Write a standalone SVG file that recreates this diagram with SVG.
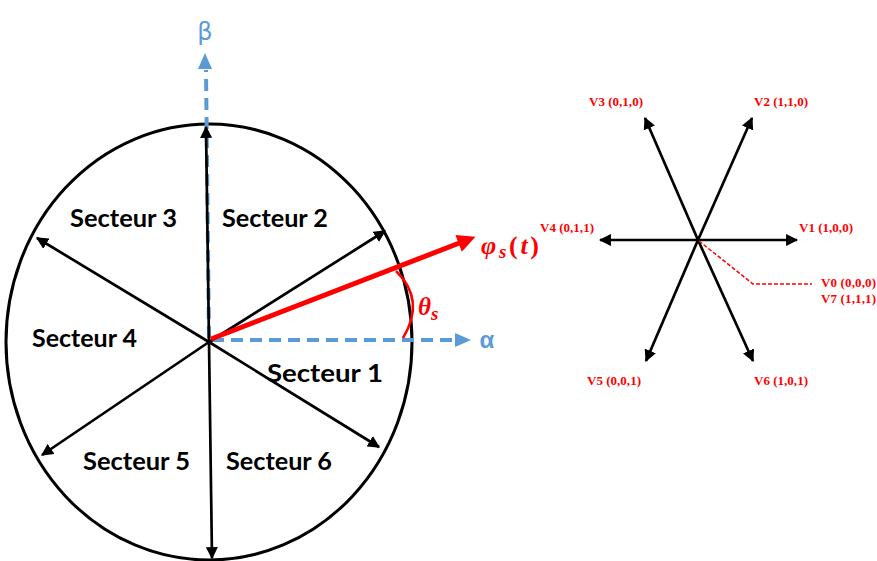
<svg xmlns="http://www.w3.org/2000/svg" width="877" height="561" viewBox="0 0 877 561">
<style>
.sp{stroke:#000;stroke-width:2.7;fill:none}
.sec{font-family:Lato,"Liberation Sans",sans-serif;font-weight:bold;font-size:24px;fill:#000}
.bl{stroke:#5B9BD5;stroke-width:4;stroke-dasharray:12 7;fill:none}
.vl{font-family:"Liberation Serif",serif;font-weight:bold;font-size:13px;fill:#FF0000}
.rm{font-family:"Liberation Serif",serif;font-weight:bold;fill:#FF0000}
</style>
<defs>
<marker id="ak" viewBox="0 0 10 10" refX="9" refY="5" markerWidth="4.5" markerHeight="4.5" orient="auto" markerUnits="strokeWidth"><path d="M0,0 L10,5 L0,10 z" fill="#000"/></marker>
<marker id="ar" viewBox="0 0 10 10" refX="2" refY="5" markerWidth="4" markerHeight="3.6" orient="auto" markerUnits="strokeWidth"><path d="M0,0 L10,5 L0,10 z" fill="#FF0000"/></marker>
</defs>
<rect width="877" height="561" fill="#fff"/>
<g id="circle"><ellipse cx="209" cy="342" rx="203" ry="218" fill="none" stroke="#000" stroke-width="3"/></g>
<g id="axes">
<line class="bl" x1="209" y1="338" x2="206" y2="70"/>
<path d="M205,53 L212,69 L198,69 z" fill="#5B9BD5"/>
<line class="bl" x1="212" y1="340" x2="456" y2="340"/>
<path d="M471,340 L455,333 L455,347 z" fill="#5B9BD5"/>
<text x="205" y="40" font-family="'DejaVu Sans',sans-serif" font-size="24" fill="#5B9BD5" text-anchor="middle">β</text>
<text x="487" y="348" font-family="'Liberation Sans',sans-serif" font-weight="bold" font-size="24" fill="#5B9BD5" text-anchor="middle">α</text>
</g>
<g id="connectors">
<line class="sp" x1="209" y1="342" x2="206" y2="127" marker-end="url(#ak)"/>
<line class="sp" x1="209" y1="342" x2="212" y2="558" marker-end="url(#ak)"/>
<line class="sp" x1="209" y1="342" x2="385" y2="231" marker-end="url(#ak)"/>
<line class="sp" x1="209" y1="342" x2="37" y2="238" marker-end="url(#ak)"/>
<line class="sp" x1="209" y1="342" x2="42" y2="455" marker-end="url(#ak)"/>
<line class="sp" x1="209" y1="342" x2="379" y2="447" marker-end="url(#ak)"/>
</g>
<g id="flux">
<line x1="211" y1="339" x2="462" y2="242" stroke="#FF0000" stroke-width="5" marker-end="url(#ar)"/>
<path d="M396,271 Q426,300 403,338" fill="none" stroke="#FF0000" stroke-width="2.5"/>
<text class="rm" x="481" y="254" font-size="26" textLength="58" lengthAdjust="spacing"><tspan font-style="italic">φ</tspan><tspan font-style="italic" font-size="19" dy="4">s</tspan><tspan dy="-4">(</tspan><tspan font-style="italic">t</tspan>)</text>
<text class="rm" x="418" y="315" font-size="25"><tspan font-style="italic">θ</tspan><tspan font-style="italic" font-size="19" dy="5">s</tspan></text>
</g>
<g id="sectors">
<text class="sec" x="70" y="227" textLength="107" lengthAdjust="spacingAndGlyphs">Secteur 3</text>
<text class="sec" x="222" y="227" textLength="106" lengthAdjust="spacingAndGlyphs">Secteur 2</text>
<text class="sec" x="32" y="347" textLength="105" lengthAdjust="spacingAndGlyphs">Secteur 4</text>
<text class="sec" x="267" y="382" font-size="26" textLength="116" lengthAdjust="spacingAndGlyphs">Secteur 1</text>
<text class="sec" x="83" y="470" textLength="107" lengthAdjust="spacingAndGlyphs">Secteur 5</text>
<text class="sec" x="226" y="470" textLength="106" lengthAdjust="spacingAndGlyphs">Secteur 6</text>
</g>
<g id="hexagon">
<line class="sp" x1="698" y1="240" x2="797" y2="240" marker-end="url(#ak)"/>
<line class="sp" x1="698" y1="240" x2="600" y2="240" marker-end="url(#ak)"/>
<line class="sp" x1="698" y1="240" x2="752" y2="118" marker-end="url(#ak)"/>
<line class="sp" x1="698" y1="240" x2="645" y2="118" marker-end="url(#ak)"/>
<line class="sp" x1="698" y1="240" x2="646" y2="361" marker-end="url(#ak)"/>
<line class="sp" x1="698" y1="240" x2="753" y2="361" marker-end="url(#ak)"/>
<polyline points="699,241 753,284 812,284" fill="none" stroke="#FF0000" stroke-width="1.5" stroke-dasharray="4 2"/>
</g>
<g id="labels">
<text class="vl" x="589" y="106" textLength="54">V3 (0,1,0)</text>
<text class="vl" x="754" y="106" textLength="54">V2 (1,1,0)</text>
<text class="vl" x="540" y="232" textLength="54">V4 (0,1,1)</text>
<text class="vl" x="799" y="232" textLength="54">V1 (1,0,0)</text>
<text class="vl" x="821" y="287" textLength="55">V0 (0,0,0)</text>
<text class="vl" x="821" y="303" textLength="55">V7 (1,1,1)</text>
<text class="vl" x="587" y="385" textLength="54">V5 (0,0,1)</text>
<text class="vl" x="754" y="385" textLength="54">V6 (1,0,1)</text>
</g>
</svg>
